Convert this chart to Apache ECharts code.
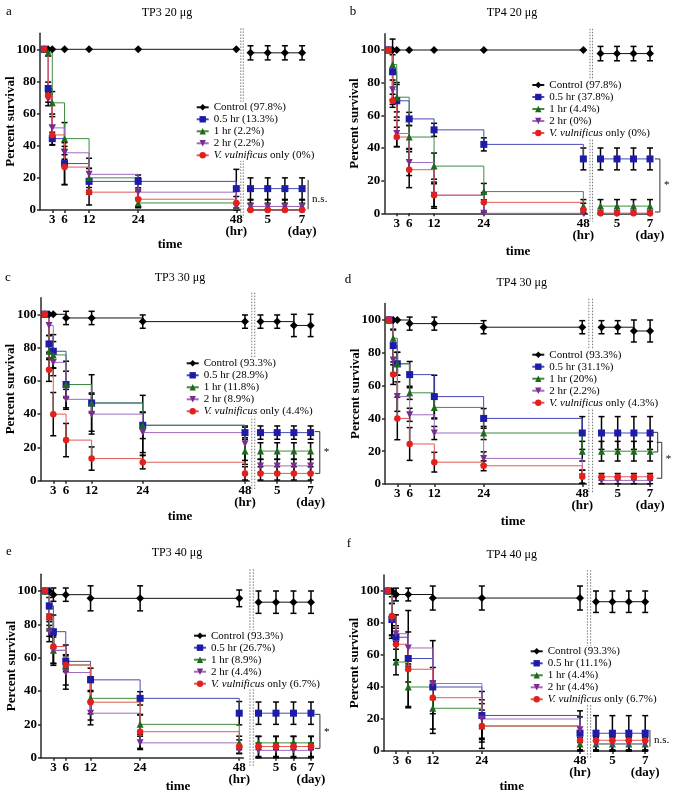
<!DOCTYPE html>
<html>
<head>
<meta charset="utf-8">
<script src="https://cdn.jsdelivr.net/npm/echarts@6/dist/echarts.min.js"></script>
<style>html,body{margin:0;padding:0;background:#fff}#c{width:675px;height:798px}</style>
</head>
<body>
<div id="c"></div>
<script>
// ---------- data ----------
const groupLabels = ['Control', '0.5 hr', '1 hr', '2 hr', 'V. vulnificus only'];
const hourTimes = [0, 1, 2, 3, 6, 12, 24, 48];
const dayTimes = [4, 5, 6, 7];
const hourTicks = [3, 6, 12, 24, 48];
const dayTicks = [5, 6, 7];
const yTicks = [0, 20, 40, 60, 80, 100];
const panelTitles = ['TP3 20 μg', 'TP4 20 μg', 'TP3 30 μg', 'TP4 30 μg', 'TP3 40 μg', 'TP4 40 μg'];
const panelLetters = ['a', 'b', 'c', 'd', 'e', 'f'];

// panel a
const aFinal = ['97.8', '13.3', '2.2', '2.2', '0'];
const aHour = [
  [100, 100, 100, 100, 100, 100, 100, 100],
  [100, 100, 75.6, 44.4, 28.9, 17.8, 17.8, 13.3],
  [100, 100, 97.8, 66.7, 44.4, 20, 4.4, 2.2],
  [100, 100, 68.9, 51.1, 35.6, 22.2, 11.1, 2.2],
  [100, 100, 71.1, 46.7, 26.7, 11.1, 6.7, 4.4]
];
const aHourErr = [
  [0, 0, 0, 0, 0, 0, 0, 0],
  [0, 0, 4, 4, 13, 8, 4, 12],
  [0, 0, 2, 7, 10, 6, 3, 2],
  [0, 0, 4, 7, 4, 10, 9, 2],
  [0, 0, 4, 6, 11, 8, 5, 4]
];
const aDay = [[97.8, 97.8, 97.8, 97.8], [13.3, 13.3, 13.3, 13.3], [2.2, 2.2, 2.2, 2.2], [2.2, 2.2, 2.2, 2.2], [0, 0, 0, 0]];
const aDayErr = [[4.4, 4.4, 4.4, 4.4], [6.7, 6.7, 6.7, 6.7], [2, 2, 2, 2], [4, 4, 4, 4], [0, 0, 0, 0]];

// panel b
const bFinal = ['97.8', '37.8', '4.4', '0', '0'];
const bHour = [
  [100, 100, 100, 100, 100, 100, 100, 100],
  [100, 100, 86.7, 68.9, 57.8, 51.1, 42.2, 33.3],
  [100, 100, 91.1, 71.1, 46.7, 28.9, 13.3, 4.4],
  [100, 100, 75.6, 48.9, 31.1, 11.1, 0, 0],
  [100, 100, 68.9, 46.7, 26.7, 11.1, 6.7, 2.2]
];
const bHourErr = [
  [0, 0, 0, 0, 0, 0, 0, 0],
  [0, 0, 20, 10, 4, 4, 4, 6.7],
  [0, 0, 6, 9, 7, 8, 5, 4],
  [0, 0, 6, 8, 8, 7, 0, 0],
  [0, 0, 4, 6, 11, 8, 6, 4]
];
const bDay = [[97.8, 97.8, 97.8, 97.8], [33.3, 33.3, 33.3, 33.3], [4.4, 4.4, 4.4, 4.4], [0, 0, 0, 0], [0, 0, 0, 0]];
const bDayErr = [[4.4, 4.4, 4.4, 4.4], [6.7, 6.7, 6.7, 6.7], [4, 4, 4, 4], [0, 0, 0, 0], [0, 0, 0, 0]];

// panel c
const cFinal = ['93.3', '28.9', '11.8', '8.9', '4.4'];
const cHour = [
  [100, 100, 100, 100, 97.8, 97.8, 95.6, 95.6],
  [100, 100, 82.2, 77.8, 57.8, 46.7, 33.3, 28.9],
  [100, 100, 77.8, 75.6, 57.8, 46.7, 33.3, 17.8],
  [100, 100, 93.3, 71.1, 48.9, 40, 28.9, 22.2],
  [100, 100, 66.7, 40, 24.4, 13.3, 11.1, 4.4]
];
const cHourErr = [
  [0, 0, 0, 0, 4, 4, 4, 4],
  [0, 0, 5, 10, 14, 17, 18, 4],
  [0, 0, 5, 8, 8, 6, 8, 8],
  [0, 0, 6, 8, 6, 12, 12, 10],
  [0, 0, 7, 13, 10, 7, 4, 4]
];
const cDay = [[95.6, 95.6, 93.3, 93.3], [28.9, 28.9, 28.9, 28.9], [17.8, 17.8, 17.8, 17.8], [8.9, 8.9, 8.9, 8.9], [4.4, 4.4, 4.4, 4.4]];
const cDayErr = [[4, 4, 6.7, 6.7], [4, 4, 4, 4], [5, 5, 5, 5], [4, 4, 4, 4], [4, 4, 4, 4]];

// panel d
const dFinal = ['93.3', '31.1', '20', '2.2', '4.3'];
const dHour = [
  [100, 100, 100, 100, 97.8, 97.8, 95.6, 95.6],
  [100, 100, 84.4, 73.3, 66.7, 53.3, 40, 31.1],
  [100, 100, 88.9, 73.3, 55.6, 46.7, 31.1, 20],
  [100, 100, 75.6, 53.3, 42.2, 31.1, 15.6, 4.4],
  [100, 100, 66.7, 40, 24.4, 13.3, 11.1, 4.4]
];
const dHourErr = [
  [0, 0, 0, 0, 4, 4, 4, 4],
  [0, 0, 10, 7, 8, 13, 6, 10],
  [0, 0, 5, 7, 4, 7, 4, 6],
  [0, 0, 8, 9, 4, 4, 4, 4],
  [0, 0, 6, 13, 10, 6, 3, 4]
];
const dDay = [[95.6, 95.6, 93.3, 93.3], [31.1, 31.1, 31.1, 31.1], [20, 20, 20, 20], [2.2, 2.2, 2.2, 2.2], [4.4, 4.4, 4.4, 4.4]];
const dDayErr = [[4, 4, 6.7, 6.7], [10, 10, 10, 10], [6, 6, 6, 6], [2, 2, 2, 2], [2, 2, 2, 2]];

// panel e
const eFinal = ['93.3', '26.7', '8.9', '4.4', '6.7'];
const eHour = [
  [100, 100, 100, 97.8, 97.8, 95.6, 95.6, 95.6],
  [100, 100, 91.1, 75.6, 57.8, 46.7, 35.6, 26.7],
  [100, 100, 77.8, 64.4, 55.6, 35.6, 20, 8.9],
  [100, 100, 75.6, 64.4, 51.1, 26.7, 8.9, 4.4],
  [100, 100, 84.4, 66.7, 55.6, 33.3, 15.6, 6.7]
];
const eHourErr = [
  [0, 0, 0, 4, 4, 7.5, 7.5, 5],
  [0, 0, 5, 10, 4, 7, 4, 7],
  [0, 0, 5, 8, 12, 13, 6, 4],
  [0, 0, 6, 9, 10, 7, 4, 2],
  [0, 0, 5, 10, 4, 7, 10, 4]
];
const eDay = [[93.3, 93.3, 93.3, 93.3], [26.7, 26.7, 26.7, 26.7], [8.9, 8.9, 8.9, 8.9], [4.4, 4.4, 4.4, 4.4], [6.7, 6.7, 6.7, 6.7]];
const eDayErr = [[6.7, 6.7, 6.7, 6.7], [6.7, 6.7, 6.7, 6.7], [4, 4, 4, 4], [4.4, 4.4, 4.4, 4.4], [6, 6, 6, 6]];

// panel f
const fFinal = ['93.3', '11.1', '4.4', '4.4', '6.7'];
const fHour = [
  [100, 100, 100, 97.8, 97.8, 95.6, 95.6, 95.6],
  [100, 100, 82.2, 71.1, 57.8, 40, 22.2, 11.1],
  [100, 100, 84.4, 55.6, 40, 26.7, 15.6, 4.4],
  [100, 100, 82.2, 73.3, 64.4, 42.2, 20, 13.3],
  [100, 100, 84.4, 66.7, 51.1, 33.3, 15.6, 6.7]
];
const fHourErr = [
  [0, 0, 0, 4, 4, 7.5, 7.5, 7.5],
  [0, 0, 10, 14, 30, 29, 15, 14],
  [0, 0, 14, 8, 13, 13, 14, 4],
  [0, 0, 10, 5, 10, 10, 12, 8],
  [0, 0, 12, 10, 8, 10, 10, 6]
];
const fDay = [[93.3, 93.3, 93.3, 93.3], [11.1, 11.1, 11.1, 11.1], [4.4, 4.4, 4.4, 4.4], [4.4, 4.4, 4.4, 4.4], [6.7, 6.7, 6.7, 6.7]];
const fDayErr = [[6.7, 6.7, 6.7, 6.7], [11, 11, 11, 11], [4, 4, 4, 4], [4.4, 4.4, 4.4, 4.4], [6, 6, 6, 6]];

// ---------- styles & layout ----------
const FONT = 'Liberation Serif';
const styles = [
  { symbol: 'diamond', size: 8, rot: 0, marker: '#000000', line: '#111111' },
  { symbol: 'rect', size: 7, rot: 0, marker: '#1c1ca8', line: '#4848b8' },
  { symbol: 'triangle', size: 7, rot: 0, marker: '#1d6a1d', line: '#3f8c3f' },
  { symbol: 'triangle', size: 7, rot: 180, marker: '#7a2c91', line: '#a06cc0' },
  { symbol: 'circle', size: 6.5, rot: 0, marker: '#e3201b', line: '#e05a55' }
];

const panels = [
  { final: aFinal, hour: aHour, hourErr: aHourErr, day: aDay, dayErr: aDayErr },
  { final: bFinal, hour: bHour, hourErr: bHourErr, day: bDay, dayErr: bDayErr },
  { final: cFinal, hour: cHour, hourErr: cHourErr, day: cDay, dayErr: cDayErr },
  { final: dFinal, hour: dHour, hourErr: dHourErr, day: dDay, dayErr: dDayErr },
  { final: eFinal, hour: eHour, hourErr: eHourErr, day: eDay, dayErr: eDayErr },
  { final: fFinal, hour: fHour, hourErr: fHourErr, day: fDay, dayErr: fDayErr }
];

const layout = [
  { x0: 40, ph: 4.09, y100: 49.3, y0: 210, d4: 250.5, pd: 17.2, brk: [49.1, 49.7],
    letter: [9, 12], title: [167, 13], time: [170, 245], legend: [201.7, 108.3],
    sig: [{ x: 7.35, y1: 0.4, y2: 18.7, ticks: false, text: 'n.s.', ty: 7 }] },
  { x0: 384.3, ph: 4.147, y100: 50, y0: 213.3, d4: 600.5, pd: 16.5, brk: [49.6, 50.2],
    letter: [353, 12], title: [512, 13], time: [518, 252], legend: [537.3, 86],
    sig: [{ x: 7.6, y1: 0.8, y2: 33.3, ticks: true, text: '*', ty: 17 }] },
  { x0: 40.5, ph: 4.26, y100: 314.3, y0: 480.7, d4: 260.5, pd: 16.7, brk: [49.6, 50.3],
    letter: [8, 278], title: [180, 278], time: [180, 516.7], legend: [191.7, 364.3],
    sig: [{ x: 7.55, y1: 4.4, y2: 29.5, ticks: true, text: '*', ty: 17 }] },
  { x0: 385, ph: 4.11, y100: 320, y0: 484, d4: 601.5, pd: 16.2, brk: [49.6, 50.5],
    letter: [348, 280], title: [521.7, 283], time: [513, 521.7], legend: [537.3, 355.7],
    sig: [{ x: 7.47, y1: 19.5, y2: 31.5, ticks: true, text: '', ty: 0 },
          { x: 7.72, y1: 3.5, y2: 25.4, ticks: true, text: '*', ty: 15 }] },
  { x0: 41, ph: 4.13, y100: 591, y0: 757.7, d4: 258.5, pd: 17.5, brk: [50.6, 51.4],
    letter: [9, 551.7], title: [177, 552.7], time: [178, 786.7], legend: [199, 636.7],
    sig: [{ x: 7.51, y1: 5.6, y2: 26, ticks: true, text: '*', ty: 15.6 }] },
  { x0: 383.7, ph: 4.09, y100: 591, y0: 751, d4: 596, pd: 16.4, brk: [49.8, 50.6],
    letter: [349, 543.3], title: [511.7, 555], time: [511.7, 786.7], legend: [535.7, 652.3],
    sig: [{ x: 7.29, y1: 2.7, y2: 13.1, ticks: false, text: 'n.s.', ty: 7 }] }
];

const HOUR_MAX = 49, DAY_MIN = 3.85, DAY_MAX = 7.05, Y_MAX = 110;
const axisLineStyle = { color: '#2a2a2a', width: 1.5 };

// ---------- build option ----------
const grid = [], xAxis = [], yAxis = [], series = [], legend = [], graphic = [];

function errRender(params, api) {
  const x = api.value(0), y = api.value(1), e = api.value(2);
  if (!e) return null;
  const top = api.coord([x, Math.min(y + e, Y_MAX)]);
  const bot = api.coord([x, Math.max(y - e, 0)]);
  const w = 3, st = { stroke: '#000', lineWidth: 1.5 };
  return { type: 'group', children: [
    { type: 'line', shape: { x1: top[0], y1: top[1], x2: bot[0], y2: bot[1] }, style: st },
    { type: 'line', shape: { x1: top[0] - w, y1: top[1], x2: top[0] + w, y2: top[1] }, style: st },
    { type: 'line', shape: { x1: bot[0] - w, y1: bot[1], x2: bot[0] + w, y2: bot[1] }, style: st }
  ] };
}

function breakRender(params, api) {
  const x = api.value(0);
  const t = api.coord([x, 113]), b = api.coord([x, -5]);
  return { type: 'line', shape: { x1: t[0], y1: t[1], x2: b[0], y2: b[1] },
    style: { stroke: '#777', lineWidth: 1, lineDash: [1.5, 1.5] } };
}

function makeSigRender(spec) {
  return function (params, api) {
    const s = spec[params.dataIndex];
    const p2 = api.coord([s.x, s.y2]), p1 = api.coord([s.x, s.y1]);
    const st = { stroke: '#333', lineWidth: 1 };
    const ch = [{ type: 'line', shape: { x1: p2[0], y1: p2[1], x2: p1[0], y2: p1[1] }, style: st }];
    if (s.ticks) {
      ch.push({ type: 'line', shape: { x1: p2[0] - 5, y1: p2[1], x2: p2[0], y2: p2[1] }, style: st });
      ch.push({ type: 'line', shape: { x1: p1[0] - 5, y1: p1[1], x2: p1[0], y2: p1[1] }, style: st });
    }
    if (s.text) {
      const pt = api.coord([s.x, s.ty]);
      ch.push({ type: 'text', style: { text: s.text, x: pt[0] + 4, y: pt[1], verticalAlign: 'middle',
        font: '11px "' + FONT + '"', fill: '#000' } });
    }
    return { type: 'group', children: ch };
  };
}

panels.forEach(function (P, i) {
  const L = layout[i];
  const H = L.y0 - L.y100;
  const top = L.y100 - 0.1 * H, height = 1.1 * H;
  const gh = 2 * i, gd = 2 * i + 1;
  grid.push({ left: L.x0, top: top, width: HOUR_MAX * L.ph, height: height });
  grid.push({ left: L.d4 - (4 - DAY_MIN) * L.pd, top: top, width: (DAY_MAX - DAY_MIN) * L.pd, height: height });

  const labelStyle = { fontFamily: FONT, fontWeight: 'bold', fontSize: 13, color: '#000',
    showMinLabel: true, showMaxLabel: true, hideOverlap: false };
  xAxis.push({ gridIndex: gh, type: 'value', min: 0, max: HOUR_MAX,
    axisLine: { lineStyle: axisLineStyle }, splitLine: { show: false },
    axisTick: { length: 3, lineStyle: axisLineStyle, customValues: hourTicks },
    axisLabel: Object.assign({ margin: 4, lineHeight: 12, customValues: hourTicks,
      formatter: function (v) { return v === 48 ? '48\n(hr)' : String(v); } }, labelStyle) });
  xAxis.push({ gridIndex: gd, type: 'value', min: DAY_MIN, max: DAY_MAX,
    axisLine: { lineStyle: axisLineStyle }, splitLine: { show: false },
    axisTick: { length: 3, lineStyle: axisLineStyle, customValues: dayTicks },
    axisLabel: Object.assign({ margin: 4, lineHeight: 12, customValues: dayTicks,
      formatter: function (v) { return v === 7 ? '7\n(day)' : String(v); } }, labelStyle) });
  yAxis.push({ gridIndex: gh, type: 'value', min: 0, max: Y_MAX,
    name: 'Percent survival', nameLocation: 'middle', nameGap: 23, nameMoveOverlap: false,
    nameTextStyle: { fontFamily: FONT, fontWeight: 'bold', fontSize: 13, color: '#000' },
    axisLine: { show: true, lineStyle: axisLineStyle }, splitLine: { show: false },
    axisTick: { show: true, length: 3, lineStyle: axisLineStyle, customValues: yTicks },
    axisLabel: Object.assign({ margin: 4, customValues: yTicks }, labelStyle) });
  yAxis.push({ gridIndex: gd, type: 'value', min: 0, max: Y_MAX, show: false, splitLine: { show: false } });

  const names = [];
  const errH = [], errD = [];
  for (let g = 0; g < 5; g++) {
    const S = styles[g];
    const name = groupLabels[g] + ' (' + P.final[g] + '%)';
    names.push(name);
    const common = { name: name, type: 'line', step: 'end', symbol: S.symbol, symbolSize: S.size,
      symbolRotate: S.rot, itemStyle: { color: S.marker }, lineStyle: { color: S.line, width: 1 },
      z: 3, animation: false, clip: false };
    series.push(Object.assign({}, common, { xAxisIndex: gh, yAxisIndex: gh,
      data: hourTimes.map(function (t, k) {
        return k === 0 ? { value: [t, P.hour[g][k]], symbol: 'none' } : [t, P.hour[g][k]];
      }) }));
    series.push(Object.assign({}, common, { xAxisIndex: gd, yAxisIndex: gd,
      data: dayTimes.map(function (t, k) { return [t, P.day[g][k]]; }) }));
    hourTimes.forEach(function (t, k) { errH.push([t, P.hour[g][k], P.hourErr[g][k]]); });
    dayTimes.forEach(function (t, k) { errD.push([t, P.day[g][k], P.dayErr[g][k]]); });
  }
  series.push({ type: 'custom', xAxisIndex: gh, yAxisIndex: gh, renderItem: errRender, data: errH,
    z: 2, animation: false, clip: false, silent: true });
  series.push({ type: 'custom', xAxisIndex: gd, yAxisIndex: gd, renderItem: errRender, data: errD,
    z: 2, animation: false, clip: false, silent: true });
  series.push({ type: 'custom', xAxisIndex: gh, yAxisIndex: gh, renderItem: breakRender,
    data: L.brk.map(function (b) { return [b, 0]; }), z: 1, animation: false, clip: false, silent: true });
  series.push({ type: 'custom', xAxisIndex: gd, yAxisIndex: gd, renderItem: makeSigRender(L.sig),
    data: L.sig.map(function (s) { return [s.x, s.y1, s.y2]; }), z: 2, animation: false, clip: false, silent: true });

  legend.push({ data: names, orient: 'vertical', left: L.legend[0] - 6, top: L.legend[1] - 6.5,
    itemWidth: 12, itemHeight: 8, itemGap: 1, padding: [0, 3, 0, 0], backgroundColor: '#fff', z: 10,
    selectedMode: false,
    textStyle: { fontFamily: FONT, fontSize: 11, color: '#000',
      rich: { i: { fontFamily: FONT, fontSize: 11, fontStyle: 'italic', color: '#000' } } },
    formatter: function (n) {
      return n.indexOf('V. vulnificus') === 0 ? '{i|V. vulnificus}' + n.slice(13) : n;
    } });

  graphic.push({ type: 'text', style: { text: panelLetters[i], x: L.letter[0], y: L.letter[1],
    align: 'center', verticalAlign: 'middle', font: '13px "' + FONT + '"', fill: '#000' } });
  graphic.push({ type: 'text', style: { text: panelTitles[i], x: L.title[0], y: L.title[1],
    align: 'center', verticalAlign: 'middle', font: '12px "' + FONT + '"', fill: '#000' } });
  graphic.push({ type: 'text', style: { text: 'time', x: L.time[0], y: L.time[1],
    align: 'center', verticalAlign: 'middle', font: 'bold 13px "' + FONT + '"', fill: '#000' } });
});

const chart = echarts.init(document.getElementById('c'), null, { renderer: 'canvas' });
chart.setOption({ animation: false, backgroundColor: '#fff', grid: grid, xAxis: xAxis, yAxis: yAxis,
  series: series, legend: legend, graphic: graphic });
</script>
</body>
</html>
